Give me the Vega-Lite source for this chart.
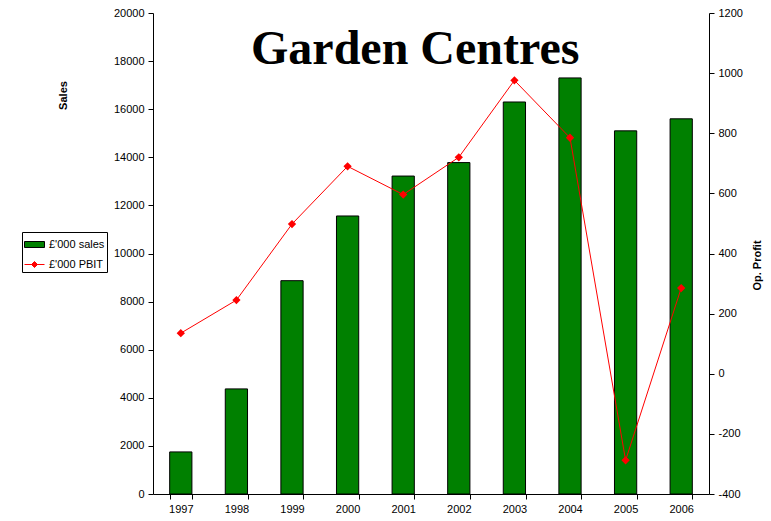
{
  "$schema": "https://vega.github.io/schema/vega-lite/v6.json",
  "width": 556,
  "height": 481,
  "autosize": {"type": "none"},
  "padding": {"left": 153, "top": 13, "right": 62, "bottom": 27},
  "background": "white",
  "data": {
    "values": [
      {"year": "1997", "sales": 1750, "pbit": 135},
      {"year": "1998", "sales": 4370, "pbit": 245},
      {"year": "1999", "sales": 8870, "pbit": 498},
      {"year": "2000", "sales": 11560, "pbit": 690},
      {"year": "2001", "sales": 13220, "pbit": 596},
      {"year": "2002", "sales": 13780, "pbit": 720},
      {"year": "2003", "sales": 16300, "pbit": 976},
      {"year": "2004", "sales": 17300, "pbit": 785},
      {"year": "2005", "sales": 15100, "pbit": -288},
      {"year": "2006", "sales": 15600, "pbit": 285}
    ]
  },
  "encoding": {
    "x": {
      "field": "year",
      "type": "ordinal",
      "scale": {"paddingInner": 0.6, "paddingOuter": 0.3},
      "axis": {
        "title": null,
        "labelAngle": 0,
        "tickBand": "extent",
        "domainColor": "black",
        "tickColor": "black",
        "tickSize": 5,
        "labelFont": "Liberation Sans",
        "labelFontSize": 11,
        "labelColor": "black",
        "labelPadding": 4
      }
    }
  },
  "layer": [
    {
      "layer": [
        {
          "mark": {"type": "bar", "stroke": "black", "strokeWidth": 1},
          "encoding": {
            "y": {
              "field": "sales",
              "type": "quantitative",
              "scale": {"domain": [0, 20000], "nice": false},
              "axis": {
                "orient": "left",
                "values": [0, 2000, 4000, 6000, 8000, 10000, 12000, 14000, 16000, 18000, 20000],
                "grid": false,
                "format": "d",
                "title": "Sales",
                "titleFont": "Liberation Sans",
                "titleFontSize": 11,
                "titleFontWeight": "bold",
                "titleColor": "black",
                "titleX": -90,
                "titleY": 82,
                "titleAngle": -90,
                "titleAlign": "center",
                "titleBaseline": "middle",
                "domainColor": "black",
                "tickColor": "black",
                "tickSize": 5,
                "labelFont": "Liberation Sans",
                "labelFontSize": 11,
                "labelColor": "black",
                "labelPadding": 4
              }
            },
            "fill": {
              "datum": "£'000 sales",
              "type": "nominal",
              "scale": {"range": ["#008000"]},
              "legend": {
                "title": " ",
                "titleOrient": "bottom",
                "titleFontSize": 20,
                "titlePadding": 0,
                "orient": "none",
                "legendX": -131,
                "legendY": 219,
                "strokeColor": "black",
                "fillColor": "white",
                "padding": 2,
                "labelFont": "Liberation Sans",
                "labelFontSize": 11,
                "labelColor": "black",
                "labelOffset": 4,
                "symbolSize": 400,
                "symbolType": "M-1,-0.3L1,-0.3L1,0.3L-1,0.3Z",
                "symbolStrokeColor": "black",
                "symbolStrokeWidth": 1,
                "symbolOpacity": 1
              }
            }
          }
        },
        {
          "data": {"values": [{"label": "Garden Centres"}]},
          "mark": {
            "type": "text",
            "font": "Liberation Serif",
            "fontSize": 48,
            "fontWeight": "bold",
            "color": "black",
            "align": "center",
            "baseline": "alphabetic",
            "dx": 12
          },
          "encoding": {
            "x": {"datum": "2001", "type": "ordinal"},
            "y": {"datum": 17900, "type": "quantitative", "scale": {"domain": [0, 20000], "nice": false}},
            "text": {"field": "label"}
          }
        }
      ]
    },
    {
      "mark": {
        "type": "line",
        "strokeWidth": 1,
        "color": "#ff0000",
        "point": {"shape": "diamond", "size": 30, "filled": true, "fill": "#ff0000", "color": "#ff0000"}
      },
      "encoding": {
        "y": {
          "field": "pbit",
          "type": "quantitative",
          "scale": {"domain": [-400, 1200], "nice": false, "zero": false},
          "axis": {
            "orient": "right",
            "values": [-400, -200, 0, 200, 400, 600, 800, 1000, 1200],
            "grid": false,
            "format": "d",
            "labelExpr": "replace(datum.label, '\u2212', '-')",
            "title": "Op. Profit",
            "titleFont": "Liberation Sans",
            "titleFontSize": 11,
            "titleFontWeight": "bold",
            "titleColor": "black",
            "titleX": 48,
            "titleY": 252,
            "titleAngle": -90,
            "titleAlign": "center",
            "titleBaseline": "middle",
            "domainColor": "black",
            "tickColor": "black",
            "tickSize": 5,
            "labelFont": "Liberation Sans",
            "labelFontSize": 11,
            "labelColor": "black",
            "labelPadding": 4
          }
        },
        "stroke": {
          "datum": "£'000 PBIT",
          "type": "nominal",
          "scale": {"range": ["#ff0000"]},
          "legend": {
            "title": null,
            "orient": "none",
            "legendX": -129,
            "legendY": 241,
            "padding": 0,
            "labelFont": "Liberation Sans",
            "labelFontSize": 11,
            "labelColor": "black",
            "labelOffset": 4,
            "symbolSize": 400,
            "symbolType": "M-1,0L1,0M0,-0.3L0.3,0L0,0.3L-0.3,0Z",
            "symbolFillColor": "#ff0000",
            "symbolStrokeWidth": 1,
            "symbolOpacity": 1
          }
        }
      }
    }
  ],
  "resolve": {"scale": {"y": "independent"}},
  "config": {
    "view": {"stroke": null},
    "axis": {"domainWidth": 1, "tickWidth": 1}
  }
}
